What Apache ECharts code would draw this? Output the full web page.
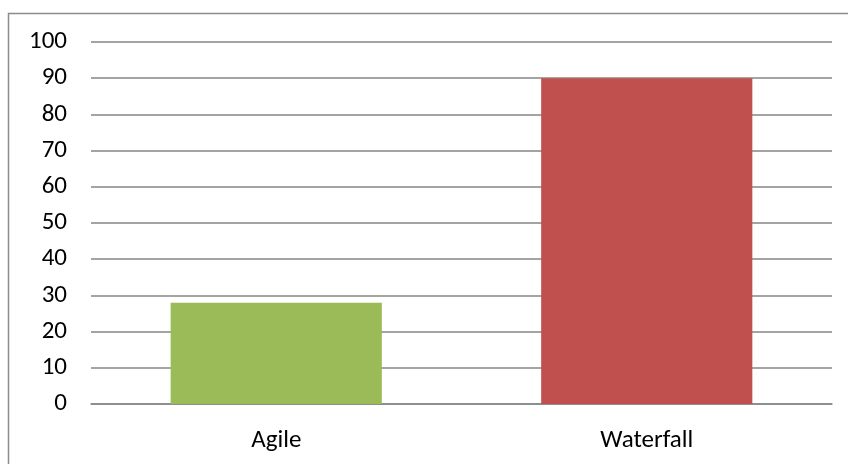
<!DOCTYPE html>
<html>
<head>
<meta charset="utf-8">
<script src="https://cdn.jsdelivr.net/npm/echarts@6/dist/echarts.min.js"></script>
<style>
  html, body { margin: 0; padding: 0; background: #fff; }
  #chart { width: 848px; height: 464px; }
</style>
</head>
<body>
<div id="chart"></div>
<script>
// Methodology comparison
const categories = ['Agile', 'Waterfall'];
const values = [28, 90];
const barColors = ['#9BBB59', '#C0504D'];
const yTicks = { min: 0, max: 100, interval: 10 };

const chart = echarts.init(document.getElementById('chart'), null, { renderer: 'canvas' });

const fontFamily = 'Carlito, Calibri, "Open Sans", "Liberation Sans", sans-serif';

chart.setOption({
  animation: false,
  backgroundColor: '#ffffff',
  graphic: [{
    type: 'rect',
    shape: { x: 8.5, y: 13.5, width: 900, height: 500 },
    style: { fill: 'none', stroke: '#8c8c8c', lineWidth: 1.5 },
    silent: true
  }],
  grid: { left: 91, right: 16, top: 42, bottom: 60, containLabel: false },
  xAxis: {
    type: 'category',
    data: categories,
    axisLine: { show: true, lineStyle: { color: '#868686', width: 1.5 } },
    axisTick: { show: false },
    axisLabel: { color: '#000', fontSize: 25, fontFamily: fontFamily, margin: 24 }
  },
  yAxis: {
    type: 'value',
    min: yTicks.min,
    max: yTicks.max,
    interval: yTicks.interval,
    axisLine: { show: false },
    axisTick: { show: false },
    splitLine: { show: true, lineStyle: { color: '#868686', width: 1.5 } },
    axisLabel: { color: '#000', fontSize: 25, fontFamily: fontFamily, margin: 24 }
  },
  series: [{
    type: 'bar',
    data: values.map((v, i) => ({ value: v, itemStyle: { color: barColors[i] } })),
    barWidth: '57%'
  }]
});
</script>
</body>
</html>
